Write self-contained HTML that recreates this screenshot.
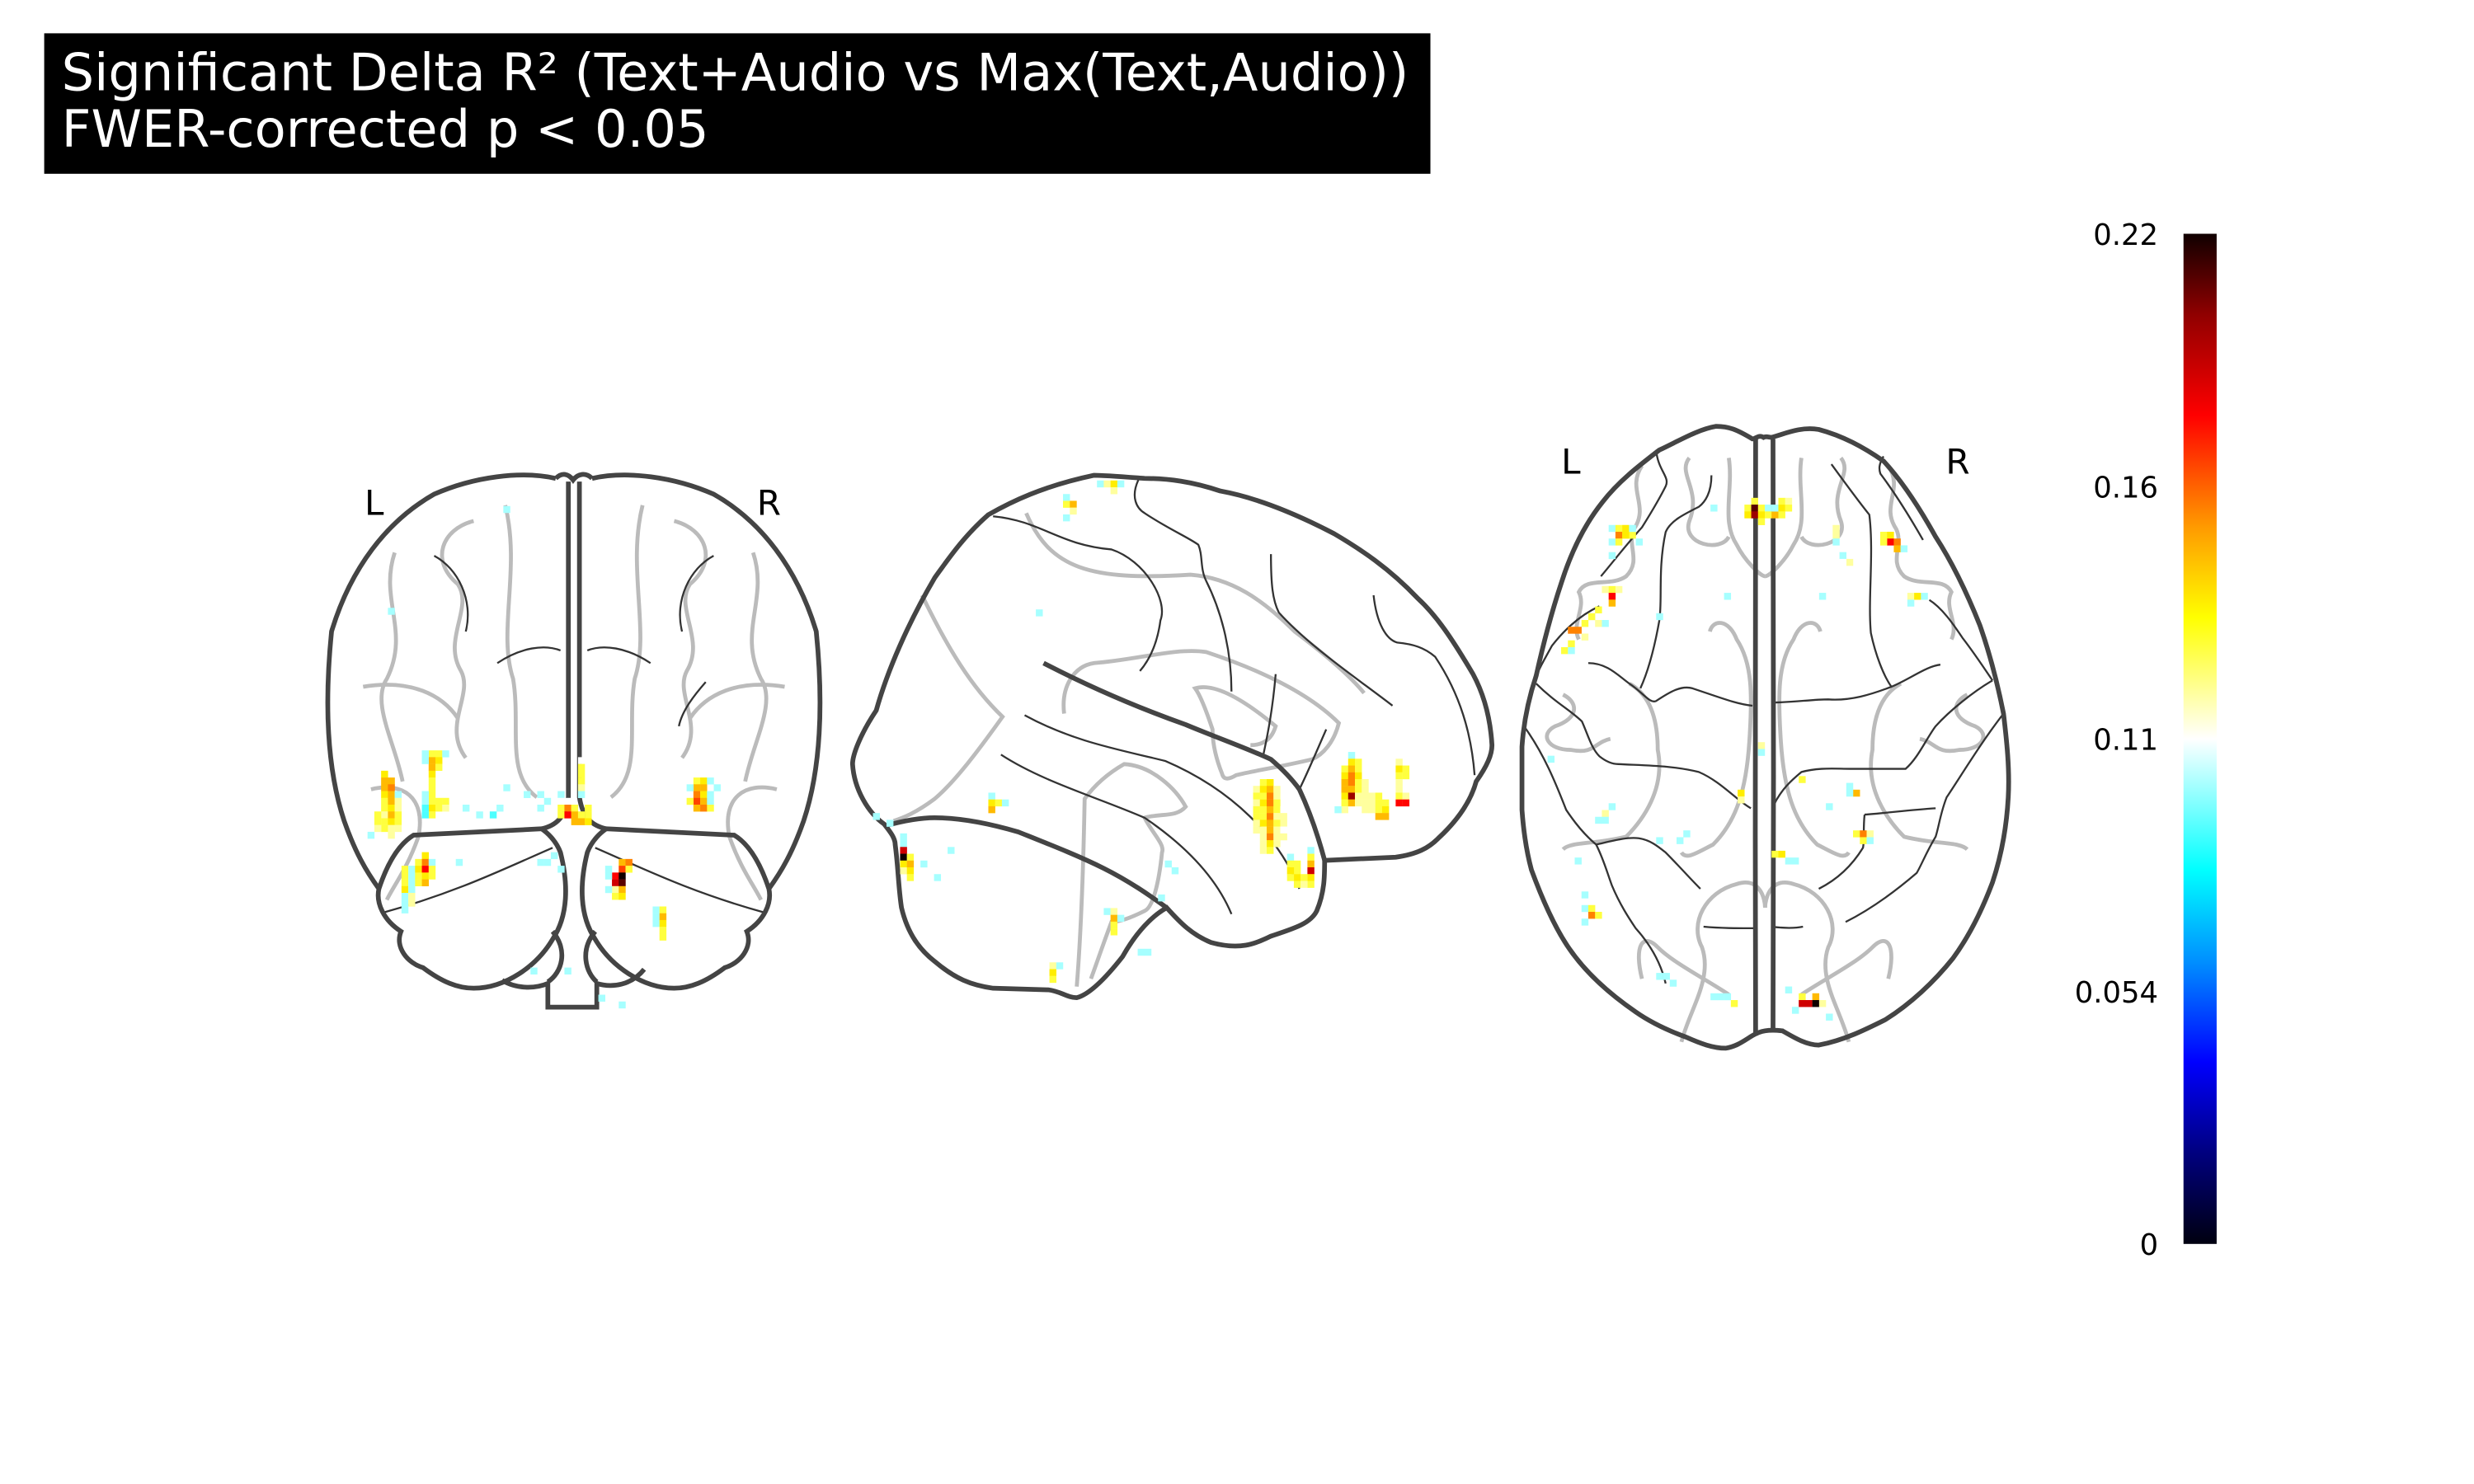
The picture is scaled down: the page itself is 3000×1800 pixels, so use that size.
<!DOCTYPE html>
<html><head><meta charset="utf-8"><style>
html,body{margin:0;padding:0;background:#fff;}
svg{display:block;font-family:"DejaVu Sans","Liberation Sans",sans-serif;}
</style></head><body>
<svg id="fig" width="3000" height="1800" viewBox="0 0 1567 940" xmlns="http://www.w3.org/2000/svg">
<defs>
<linearGradient id="cmap" x1="0" y1="1" x2="0" y2="0">
<stop offset="0" stop-color="#000010"/><stop offset="0.09" stop-color="#00007f"/><stop offset="0.18" stop-color="#0000ff"/>
<stop offset="0.28" stop-color="#0090ff"/><stop offset="0.37" stop-color="#00ffff"/><stop offset="0.5" stop-color="#ffffff"/>
<stop offset="0.62" stop-color="#ffff00"/><stop offset="0.71" stop-color="#ff9a00"/><stop offset="0.82" stop-color="#ff0000"/>
<stop offset="0.92" stop-color="#900000"/><stop offset="1" stop-color="#100000"/>
</linearGradient>
</defs>
<g>
<rect x="28" y="21" width="878" height="89" fill="#000"/>
<text x="39" y="57" font-size="32.5" fill="#fff">Significant Delta R² (Text+Audio vs Max(Text,Audio))</text>
<text x="39" y="93" font-size="32.5" fill="#fff">FWER-corrected p &lt; 0.05</text>
</g>

<g fill="none">
<g stroke="#bbb" stroke-width="2.5">
<path d="M300,330 C280,335 272,355 290,370 C300,385 280,405 292,425 C300,440 280,460 295,480"/>
<path d="M250,350 C240,380 260,400 245,430 C235,445 250,470 255,495"/>
<path d="M230,435 C260,430 280,440 290,455"/>
<path d="M320,320 C330,360 315,400 325,430 C330,460 320,490 340,505"/>
<path d="M235,500 C255,495 270,505 265,530 C258,550 250,560 245,570"/>
<g transform="translate(727,0) scale(-1,1)">
<path d="M300,330 C280,335 272,355 290,370 C300,385 280,405 292,425 C300,440 280,460 295,480"/>
<path d="M250,350 C240,380 260,400 245,430 C235,445 250,470 255,495"/>
<path d="M230,435 C260,430 280,440 290,455"/>
<path d="M320,320 C330,360 315,400 325,430 C330,460 320,490 340,505"/>
<path d="M235,500 C255,495 270,505 265,530 C258,550 250,560 245,570"/>
</g></g>
<g stroke="#333" stroke-width="1.2">
<path d="M275,352 C290,360 300,380 295,400"/><path d="M315,420 C330,410 345,408 355,412"/>
<path d="M243,578 C290,565 320,550 350,537"/>
<path d="M452,352 C437,360 427,380 432,400"/><path d="M412,420 C397,410 382,408 372,412"/><path d="M447,432 C440,440 432,450 430,460"/>
<path d="M484,578 C437,565 407,550 377,537"/>
</g>
<g stroke="#444" stroke-width="3">
<path d="M352,303 C330,298 300,302 275,313 C245,330 222,360 210,400 C205,450 208,490 218,520 C225,540 232,552 240,563"/>
<path d="M375,303 C397,298 427,302 452,313 C482,330 505,360 517,400 C522,450 519,490 509,520 C502,540 495,552 487,563"/>
<path d="M360,305 L360,505 C358,518 352,523 343,525 L262,529 C252,535 245,548 240,563 C238,572 243,583 254,590 C250,600 258,610 268,613 C280,622 290,626 300,626 C320,626 340,612 350,595 C360,580 360,560 355,540 C352,532 346,527 343,525"/>
<path d="M367,305 L367,505 C369,518 375,523 384,525 L465,529 C475,535 482,548 487,563 C489,572 484,583 473,590 C477,600 469,610 459,613 C447,622 437,626 427,626 C407,626 387,612 377,595 C367,580 367,560 372,540 C375,532 381,527 384,525"/>
<path d="M352,303 C356,299 360,300 363,304 C366,300 371,299 375,303"/>
<path d="M318,621 C328,627 340,626 347,623 L347,638 L378,638 L378,623 C388,626 400,624 408,614"/>
<path d="M350,590 C360,602 356,616 347,622 M377,590 C367,602 371,616 378,622"/>
</g>
<text x="237" y="326" font-size="22" fill="#000" stroke="none" text-anchor="middle">L</text>
<text x="487" y="326" font-size="22" fill="#000" stroke="none" text-anchor="middle">R</text>
</g>

<g fill="none">
<g stroke="#bbb" stroke-width="2.5">
<path d="M650,325 C665,360 690,368 754,364 C780,366 800,380 820,400 C840,415 855,428 864,439"/>
<path d="M584,377 C600,410 615,435 635,454 C620,475 605,495 592,506 C580,515 572,518 566,520"/>
<path d="M674,452 C672,435 680,422 693,420 C720,418 745,410 764,413 C800,425 830,440 848,458 C845,470 838,478 831,481 C810,486 795,488 783,491 C778,494 775,494 774,490 C770,480 768,470 768,462 C764,450 760,440 757,436 C770,432 790,445 808,460 C805,470 798,472 792,472"/>
<path d="M682,625 C684,600 686,560 687,506 C695,495 705,488 712,484 C730,485 745,500 751,511 C745,518 735,515 725,518 C730,528 738,535 736,540 C734,560 730,575 725,577 C715,582 708,584 704,584 C698,600 694,612 691,620"/>
</g>
<g stroke="#333" stroke-width="1.2">
<path d="M629,327 C660,330 670,345 704,348 C725,355 740,380 735,393 C733,408 728,418 722,425"/>
<path d="M721,304 C716,315 720,322 725,325 C740,335 752,340 759,345 C762,352 760,360 764,368 C775,390 780,415 780,438"/>
<path d="M805,351 C805,370 806,380 810,388 C830,410 860,430 882,447"/>
<path d="M870,377 C872,395 878,405 885,407 C895,408 902,410 909,416 C925,440 932,465 934,491"/>
<path d="M649,453 C680,470 710,475 738,482 C780,500 810,530 823,563"/>
<path d="M634,478 C660,495 695,505 725,518 C750,535 770,555 780,579"/>
<path d="M808,427 C806,450 803,465 800,479"/>
<path d="M840,462 C833,478 828,490 823,500"/>
</g>
<g stroke="#444" stroke-width="3">
<path d="M693,301 C660,308 640,318 626,326 C610,340 600,355 592,366 C575,395 562,425 555,450 C545,465 540,478 540,484 C541,500 550,515 560,522 C564,527 567,531 567,535 C569,550 569,562 571,575 C575,592 583,602 592,609 C605,620 615,624 629,626 L664,627 C672,628 676,632 682,632 C690,630 700,620 711,606 C720,590 730,580 739,575 C748,585 755,592 767,597 C785,602 795,598 805,593 C820,588 830,585 834,577 C839,565 839,555 839,545 L884,543 C898,541 905,537 911,531 C925,518 932,506 935,495 C942,485 945,478 945,472 C944,455 940,440 933,427 C920,405 910,390 898,379 C880,360 862,348 845,338 C820,325 795,315 773,311 C755,305 740,303 725,303 C712,302 700,301 693,301 Z"/>
<path d="M561,523 C572,520 582,518 592,518 C610,518 628,522 645,527 C665,535 683,542 699,550 C715,558 728,567 739,575"/>
<path d="M661,420 C690,435 720,448 751,459 C770,467 790,474 805,481 C812,487 818,493 823,500 C830,515 835,530 839,545"/>
</g>
</g>

<g fill="none">
<g stroke="#bbb" stroke-width="2.5">
<path d="M1040,295 C1030,310 1045,320 1035,335 C1030,345 1040,355 1030,365 C1020,372 1005,365 1000,375 C1005,385 995,395 1000,405"/>
<path d="M1070,290 C1062,300 1078,310 1070,330 C1065,345 1090,350 1095,340"/>
<path d="M1095,290 C1098,310 1090,330 1100,345 C1105,355 1115,365 1118,365"/>
<path d="M1083,400 C1085,392 1095,392 1100,405 C1110,420 1110,440 1108,470 C1106,500 1100,520 1085,535 C1075,540 1068,545 1065,540"/>
<path d="M990,440 C1000,445 1000,455 985,460 C975,465 980,475 995,475 C1010,478 1010,470 1020,468"/>
<path d="M1032,433 C1045,440 1050,455 1050,475 C1055,500 1040,520 1030,530 C1010,535 995,533 990,538"/>
<path d="M1065,660 C1070,640 1085,620 1078,600 C1070,585 1080,565 1100,560 C1115,555 1118,570 1118,575"/>
<path d="M1040,620 C1035,600 1040,590 1050,600 C1060,610 1080,620 1095,630"/>
<g transform="translate(2236,0) scale(-1,1)">
<path d="M1040,295 C1030,310 1045,320 1035,335 C1030,345 1040,355 1030,365 C1020,372 1005,365 1000,375 C1005,385 995,395 1000,405"/>
<path d="M1070,290 C1062,300 1078,310 1070,330 C1065,345 1090,350 1095,340"/>
<path d="M1095,290 C1098,310 1090,330 1100,345 C1105,355 1115,365 1118,365"/>
<path d="M1083,400 C1085,392 1095,392 1100,405 C1110,420 1110,440 1108,470 C1106,500 1100,520 1085,535 C1075,540 1068,545 1065,540"/>
<path d="M990,440 C1000,445 1000,455 985,460 C975,465 980,475 995,475 C1010,478 1010,470 1020,468"/>
<path d="M1032,433 C1045,440 1050,455 1050,475 C1055,500 1040,520 1030,530 C1010,535 995,533 990,538"/>
<path d="M1065,660 C1070,640 1085,620 1078,600 C1070,585 1080,565 1100,560 C1115,555 1118,570 1118,575"/>
<path d="M1040,620 C1035,600 1040,590 1050,600 C1060,610 1080,620 1095,630"/>
</g></g>
<g stroke="#333" stroke-width="1.2">
<path d="M1049,285 C1050,298 1058,302 1055,308 C1050,318 1045,326 1040,334 C1030,345 1020,358 1014,365"/>
<path d="M1084,301 C1084,312 1080,318 1076,321 C1066,326 1058,330 1055,337 C1050,360 1053,380 1051,393 C1048,410 1044,425 1039,436"/>
<path d="M1006,420 C1018,420 1025,428 1032,433 C1040,438 1045,446 1049,444 C1058,438 1065,434 1072,436 C1090,442 1100,446 1110,447"/>
<path d="M1013,384 C1000,390 990,400 983,409 C978,418 974,425 972,431"/>
<path d="M973,433 C985,445 995,450 1002,457 C1006,466 1008,474 1013,479 C1018,483 1022,484 1025,484 C1045,485 1060,485 1076,489 C1090,495 1100,507 1109,512"/>
<path d="M966,461 C978,478 985,495 992,513 C998,522 1005,530 1011,535 C1016,545 1018,553 1021,561 C1026,573 1032,582 1036,588 C1045,598 1052,610 1055,623"/>
<path d="M1011,535 C1020,533 1030,530 1038,531 C1045,532 1050,536 1055,540 C1063,548 1070,556 1077,563"/>
<path d="M1079,587 C1090,588 1100,588 1112,588 M1122,587 C1130,588 1137,588 1142,587"/>
<path d="M1122,445 C1135,445 1148,443 1158,443 C1172,444 1185,440 1198,435 C1210,430 1220,422 1229,421"/>
<path d="M1193,289 C1190,294 1190,297 1191,300 C1200,312 1210,328 1218,342"/>
<path d="M1160,294 C1168,305 1176,316 1184,326 C1187,350 1183,380 1185,401 C1188,415 1193,428 1198,435"/>
<path d="M1222,380 C1230,385 1237,395 1243,404 C1250,413 1256,422 1262,431"/>
<path d="M1123,511 C1128,500 1135,494 1141,489 C1152,486 1162,487 1172,487 C1185,487 1195,487 1207,487 C1215,480 1220,468 1226,460 C1235,450 1250,438 1262,431"/>
<path d="M1269,452 C1255,470 1243,490 1233,505 C1229,515 1228,524 1226,530 C1220,540 1217,548 1214,553 C1200,565 1185,576 1169,584"/>
<path d="M1181,516 C1180,525 1181,532 1180,537 C1172,550 1162,558 1152,563 M1181,516 C1195,515 1210,513 1226,512"/>
</g>
<g stroke="#444" stroke-width="3">
<path d="M1117,277 C1114,275 1112,278 1110,278 C1100,272 1095,270 1087,270 C1075,272 1062,280 1051,285 C1038,295 1025,305 1015,318 C1003,333 995,350 989,369 C982,390 977,410 973,428 C968,443 965,458 964,473 L964,513 C965,527 967,540 970,551 C977,570 985,588 994,601 C1005,617 1020,630 1036,641 C1046,648 1057,653 1068,657 C1077,661 1085,664 1093,664 C1100,663 1105,659 1110,656 C1115,653 1120,652 1129,653 C1136,657 1144,662 1152,662 C1168,659 1182,652 1194,646 C1210,636 1225,622 1237,607 C1248,592 1256,575 1262,559 C1268,541 1271,523 1272,505 C1273,487 1271,469 1269,452 C1265,432 1260,413 1254,396 C1246,376 1237,357 1226,340 C1216,322 1205,305 1193,292 C1180,283 1167,276 1152,272 C1140,270 1130,275 1122,277 C1120,277 1119,276 1117,277 Z"/>
<path d="M1112,278 C1111,400 1112,530 1112,656"/>
<path d="M1123,278 C1124,400 1123,530 1123,654"/>
</g>
<text x="995" y="300" font-size="22" fill="#000" stroke="none" text-anchor="middle">L</text>
<text x="1240" y="300" font-size="22" fill="#000" stroke="none" text-anchor="middle">R</text>
</g>

<g id="cells"></g>
<g>
<rect x="1383" y="148" width="21" height="640" fill="url(#cmap)"/>
<g id="cbticks" font-size="18.5" fill="#000" text-anchor="end"></g>
</g>
</svg>
<script>
// colorbar
const cbTicks = [0, 0.055, 0.11, 0.165, 0.22];
const cbLabels = ["0", "0.054", "0.11", "0.16", "0.22"];
const vMin = 0, vMax = 0.22;
// coronal voxels (grid column, grid row, delta R2)
const corCol = [8,8,8,8,8,8,8,8,8, 9,9,9,9,9,9,9,9,9, 10,10,10,10,10,10, 7,7,7,6,
 15,15,15,15,15,15,15,15,15,15, 14,14,14,14,14,14, 16,16,16,16,16, 17,17,17,
 11,11,11,11,11,11,11, 12,12,12,12,12,12, 13,13,13,13, 14,14,14,14,14, 15,15,15,
 42,42,42,42, 43,43,43,43,43,43, 44,44, 41,41,41,
 48,48,48, 49,49,49,49,49,49,
 54,54,54,54,54, 55,55,55,55,55, 53,53, 56,56,56,56,
 37,37,37,37,37,37, 34,34,34,34, 35,35,35, 36,36,36, 37,37, 38,38,38,
 29,31,32,31,33,32,34,31,26,25,24,22,20,19,9,26,40,43,57,35,30];
const corRow = [44,45,46,47,48,49,50,51,52, 45,46,47,48,49,50,51,52,53, 47,48,49,50,51,52, 50,51,52,53,
 41,42,43,44,45,46,47,48,49,50, 41,42,47,48,49,50, 41,42,43,48,49, 41,48,49,
 58,59,60,61,62,63,64, 58,59,60,61,62,63, 57,58,59,60, 56,57,58,59,60, 57,58,59,
 59,60,61,62, 57,58,59,60,61,62, 57,58, 58,59,61,
 64,65,66, 63,64,65,66,67,68,
 45,46,47,48,49, 45,46,47,48,49, 46,48, 45,47,48,49,
 42,43,44,45,46,47, 47,48,49,50, 48,49,50, 49,50,51, 50,51, 49,50,51,
 47,47,48,49,56,57,58,57,46,49,50,50,49,57,20,5,77,78,46,73,73];
const corVal = [0.14,0.15,0.15,0.14,0.13,0.13,0.12,0.13,0.13, 0.15,0.16,0.15,0.15,0.14,0.15,0.14,0.12,0.12, 0.10,0.12,0.12,0.13,0.13,0.12, 0.13,0.13,0.12,0.10,
 0.13,0.15,0.15,0.14,0.13,0.13,0.13,0.13,0.14,0.13, 0.10,0.10,0.10,0.10,0.09,0.09, 0.13,0.14,0.13,0.13,0.13, 0.10,0.13,0.12,
 0.13,0.13,0.13,0.14,0.10,0.10,0.10, 0.10,0.10,0.10,0.10,0.12,0.12, 0.13,0.14,0.13,0.13, 0.14,0.16,0.18,0.14,0.15, 0.10,0.13,0.13,
 0.18,0.19,0.12,0.13, 0.15,0.17,0.22,0.21,0.15,0.14, 0.16,0.13, 0.10,0.10,0.10,
 0.10,0.10,0.10, 0.11,0.13,0.15,0.14,0.13,0.13,
 0.13,0.15,0.16,0.17,0.15, 0.14,0.15,0.14,0.15,0.16, 0.10,0.13, 0.10,0.10,0.10,0.13,
 0.11,0.13,0.13,0.13,0.12,0.10, 0.10,0.11,0.13,0.13, 0.11,0.16,0.18, 0.13,0.15,0.15, 0.13,0.15, 0.13,0.13,0.14,
 0.10,0.10,0.10,0.10,0.10,0.10,0.10,0.10,0.10,0.10,0.09,0.10,0.10,0.10,0.10,0.10,0.10,0.10,0.10,0.10,0.10];
// sagittal voxels
const sagCol = [59,59,59,59,59,59,59, 60,60,60,60,60,60,60,60,60,60,60, 61,61,61,61,61,61,61,61,61,61,61, 62,62,62,62,62,62,62,62,62, 63,63,63,63,63,
 65,65,65,65, 67,67,67,67,67,67, 66,66, 64,64,64,64,
 72,72,72,72,72,72,72, 73,73,73,73,73,73,73,73, 74,74,74,74,74,74,74, 75,75,75,75,75, 76,76,76, 77,77,77,77, 78,78,78, 80,80,80,80,80,80,80, 81,81,81,81, 70,71,
 7,7,7,7,7,7, 8,8,8,8, 20,20,21,20,22, 37,38,38,38,38,39, 29,29,29,30, 31,31,32,32,31,36,37,38,39,38,
 10,12,14,3,5,27,46,47,45,42,43];
const sagRow = [46,47,48,49,50,51,52, 45,46,47,48,49,50,51,52,53,54,55, 45,46,47,48,49,50,51,52,53,54,55, 46,47,48,49,50,51,52,53,54, 49,50,51,52,53,
 57,58,59,60, 55,56,57,58,59,60, 59,60, 56,57,58,59,
 43,44,45,46,47,48,49, 41,42,43,44,45,46,47,48, 42,43,44,45,46,47,48, 45,46,47,48,49, 47,48,49, 47,48,49,50, 48,49,50, 42,43,44,45,46,47,48, 43,44,47,48, 48,49,
 53,54,55,56,57,58, 56,57,58,59, 47,48,48,49,48, 64,64,65,66,67,65, 72,73,74,72, 3,4,4,5,6,1,1,1,1,2,
 57,59,55,50,51,20,57,58,62,70,70];
const sagVal = [0.12,0.13,0.12,0.13,0.13,0.12,0.12, 0.13,0.14,0.13,0.14,0.13,0.13,0.14,0.12,0.12,0.12,0.12, 0.14,0.15,0.16,0.16,0.15,0.16,0.15,0.15,0.16,0.14,0.13, 0.12,0.12,0.13,0.13,0.12,0.13,0.12,0.12,0.12, 0.11,0.12,0.12,0.11,0.12,
 0.13,0.13,0.14,0.13, 0.10,0.13,0.15,0.19,0.14,0.13, 0.13,0.12, 0.10,0.13,0.14,0.13,
 0.13,0.14,0.15,0.15,0.14,0.13,0.12, 0.10,0.14,0.15,0.16,0.16,0.15,0.20,0.15, 0.13,0.13,0.14,0.13,0.13,0.12,0.12, 0.12,0.12,0.12,0.12,0.12, 0.12,0.12,0.12, 0.13,0.13,0.13,0.15, 0.13,0.14,0.15, 0.12,0.14,0.13,0.12,0.12,0.13,0.18, 0.13,0.13,0.12,0.18, 0.11,0.10,
 0.10,0.10,0.19,0.22,0.14,0.12, 0.13,0.15,0.14,0.13, 0.10,0.14,0.13,0.15,0.10, 0.10,0.12,0.15,0.13,0.13,0.10, 0.12,0.14,0.13,0.10, 0.10,0.13,0.15,0.12,0.10,0.10,0.12,0.14,0.10,0.12,
 0.10,0.10,0.10,0.10,0.10,0.10,0.10,0.10,0.10,0.10,0.10];
// axial voxels
const axCol = [33,33,34,34,34,35,35,35,36,36,37,37,38,38,38,39,39,
 53,54,54,55,55,56,53, 46,46,46, 47,48,47,
 13,14,15,16,14,15,13,14,16,17,13, 12,13,13,14,13, 11,10,11,9,7,8,9,7,6,7,12,
 30,28,20,4, 12,13,12,11, 23,24,23, 20,8,9, 9,10,10,11,9, 20,21,22, 28,30,31,29, 32,32, 35,35, 37,38,39,40, 41, 48,49,48, 45, 49,50,51,50,51,
 41,41,42,43,43,44,40,45,39, 57,58,59,57, 44];
const axRow = [12,13,11,12,13,12,13,14,12,13,13,12,11,12,13,11,12,
 16,16,17,17,18,18,17, 15,16,17, 19,20,20,
 15,15,15,16,16,16,17,17,15,17,19, 24,24,25,24,26, 27,28,29,29,30,30,31,32,33,33,29,
 25,12,28,49, 57,56,58,58, 60,60,61, 61,64,69, 71,71,72,72,73, 81,81,82, 84,84,85,84, 54,55, 47,48, 63,63,64,64, 52, 53,54,54, 56, 60,60,60,61,61,
 84,85,85,84,85,85,86,87,83, 25,25,25,26, 25];
const axVal = [0.13,0.14,0.13,0.21,0.20,0.13,0.14,0.13,0.10,0.13,0.15,0.10,0.13,0.14,0.13,0.12,0.13,
 0.13,0.14,0.18,0.16,0.15,0.10,0.13, 0.12,0.12,0.10, 0.10,0.12,0.11,
 0.10,0.13,0.14,0.13,0.16,0.14,0.10,0.13,0.10,0.10,0.10, 0.12,0.13,0.18,0.12,0.15, 0.13,0.13,0.12,0.13,0.16,0.16,0.12,0.13,0.13,0.10,0.10,
 0.10,0.10,0.10,0.10, 0.12,0.10,0.10,0.10, 0.11,0.10,0.10, 0.10,0.10,0.10, 0.10,0.13,0.16,0.13,0.10, 0.10,0.10,0.10, 0.10,0.10,0.13,0.10, 0.14,0.12, 0.12,0.10, 0.13,0.14,0.10,0.10, 0.13, 0.10,0.15,0.10, 0.10, 0.13,0.16,0.12,0.13,0.10,
 0.13,0.19,0.19,0.15,0.22,0.12,0.10,0.10,0.10, 0.12,0.14,0.10,0.10, 0.10];

const NS = "http://www.w3.org/2000/svg";
const stops = [[0,[0,0,16]],[0.09,[0,0,127]],[0.18,[0,0,255]],[0.28,[0,144,255]],[0.37,[0,255,255]],[0.5,[255,255,255]],[0.62,[255,255,0]],[0.71,[255,154,0]],[0.82,[255,0,0]],[0.92,[144,0,0]],[1,[16,0,0]]];
function cmap(v){
  const t = Math.max(0, Math.min(1, (v - vMin) / (vMax - vMin)));
  for (let i = 1; i < stops.length; i++) {
    if (t <= stops[i][0]) {
      const a = stops[i-1], b = stops[i], f = (t - a[0]) / (b[0] - a[0]);
      const c = a[1].map((x, k) => Math.round(x + (b[1][k] - x) * f));
      return "rgb(" + c.join(",") + ")";
    }
  }
  return "#100000";
}
const STEP = 4.3;
const origins = {coronal: [207, 299], sagittal: [540, 300], axial: [963, 268]};
const cellsG = document.getElementById("cells");
function drawView(view, cols, rows, vals){
  const o = origins[view];
  for (let i = 0; i < cols.length; i++) {
    const r = document.createElementNS(NS, "rect");
    r.setAttribute("x", (o[0] + cols[i] * STEP).toFixed(2));
    r.setAttribute("y", (o[1] + rows[i] * STEP).toFixed(2));
    r.setAttribute("width", STEP + 0.1);
    r.setAttribute("height", STEP + 0.1);
    r.setAttribute("fill", cmap(vals[i]));
    
    
    cellsG.appendChild(r);
  }
}
drawView("coronal", corCol, corRow, corVal);
drawView("sagittal", sagCol, sagRow, sagVal);
drawView("axial", axCol, axRow, axVal);
const cbY = v => 788 - (v - vMin) / (vMax - vMin) * 640;
const tg = document.getElementById("cbticks");
for (let i = 0; i < cbTicks.length; i++) {
  const t = document.createElementNS(NS, "text");
  t.setAttribute("x", 1367);
  t.setAttribute("y", cbY(cbTicks[i]) + 7);
  t.textContent = cbLabels[i];
  
  
  tg.appendChild(t);
}
</script>
</body></html>
